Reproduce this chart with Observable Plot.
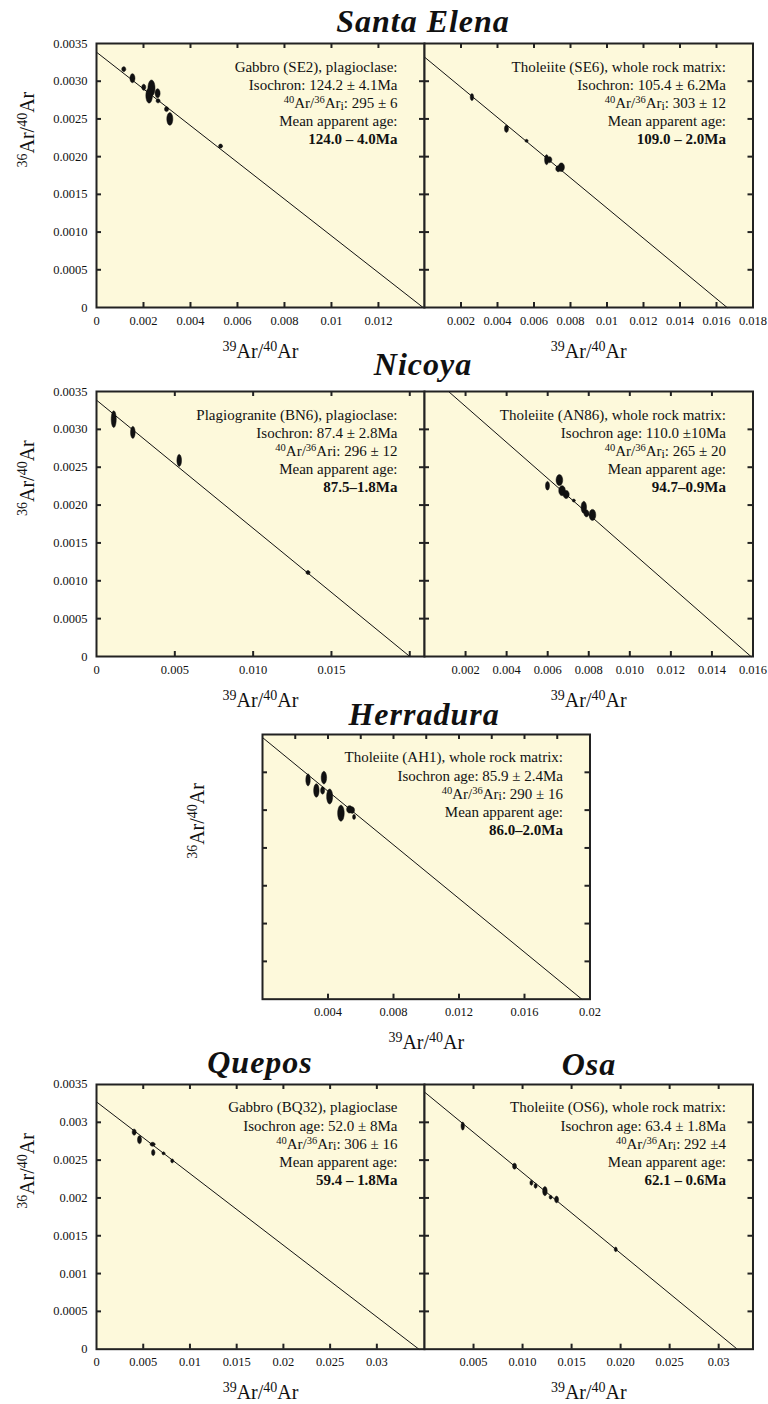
<!DOCTYPE html>
<html><head><meta charset="utf-8">
<script src="https://cdn.jsdelivr.net/npm/d3@7"></script>
<script src="https://cdn.jsdelivr.net/npm/@observablehq/plot@0.6"></script>
<style>
body{margin:0;background:#fff;}
#root{position:relative;width:768px;height:1404px;overflow:hidden;background:#fff;}
.title{position:absolute;font-family:"Liberation Serif",serif;font-weight:bold;font-style:italic;font-size:32px;line-height:32px;transform:translateX(-50%);white-space:nowrap;letter-spacing:1px;color:#111;}
.panel{position:absolute;left:0;}
</style></head><body><div id="root"></div>
<script>
// ---------------- DATA ----------------
// points: [x (39Ar/40Ar), y (36Ar/40Ar), x half-error, y half-error]
const santaElenaSE2 = [
  [0.00116,0.00316,0.000085,0.000033],[0.00153,0.00304,0.000106,0.00006],[0.00201,0.00292,0.000085,0.00004],
  [0.00234,0.00291,0.00015,0.000106],[0.00224,0.00281,0.00014,0.0001],[0.0026,0.00284,0.000106,0.00006],
  [0.00262,0.00274,0.000085,0.000027],[0.00298,0.00263,0.000085,0.000033],[0.00312,0.0025,0.000128,0.000084],
  [0.00528,0.00214,0.000085,0.000027]];
const santaElenaSE6 = [
  [0.0026,0.00279,0.000093,0.000046],[0.00449,0.00237,0.00011,0.000049],[0.00559,0.00221,0.000082,0.00002],
  [0.00669,0.00196,0.00011,0.000066],[0.00685,0.00196,0.000126,0.00004],[0.00733,0.00184,0.000137,0.00004],
  [0.0075,0.00186,0.000165,0.000057]];
const nicoyaBN6 = [
  [0.0011,0.003135,0.00016,0.00011],[0.00232,0.00296,0.000147,0.000079],[0.00528,0.00259,0.000147,0.000079],
  [0.0135,0.00111,0.000128,0.000026]];
const nicoyaAN86 = [
  [0.00599,0.002255,0.0000976,0.000057],[0.00657,0.00233,0.000161,0.000073],[0.0067,0.00219,0.000161,0.000066],
  [0.0069,0.00214,0.000146,0.000053],[0.00727,0.00206,0.000073,0.00002],[0.00776,0.00197,0.000132,0.000079],
  [0.00789,0.00189,0.000122,0.000046],[0.00818,0.00187,0.000161,0.000073]];
const herraduraAH1 = [
  [0.00278,0.0029,0.000134,0.000079],[0.00329,0.00276,0.000165,0.000089],[0.00375,0.00293,0.000165,0.000083],
  [0.00367,0.00276,0.000122,0.000049],[0.0041,0.00268,0.000183,0.000099],[0.00479,0.00246,0.0002,0.000106],
  [0.00532,0.00251,0.000183,0.000049],[0.00548,0.0025,0.00014,0.000044],[0.00559,0.00241,0.00009,0.000033]];
const queposBQ32 = [
  [0.00403,0.00287,0.000214,0.00004],[0.0046,0.00277,0.000214,0.000053],[0.006,0.00271,0.00027,0.000026],
  [0.00607,0.0026,0.00018,0.00004],[0.00717,0.00259,0.00016,0.00002],[0.0081,0.00249,0.00016,0.000026]];
const osaOS6 = [
  [0.0039,0.00295,0.00017,0.000053],[0.00918,0.00242,0.0002,0.00004],[0.0109,0.0022,0.00015,0.000033],
  [0.01133,0.00216,0.00015,0.000033],[0.01228,0.00209,0.00023,0.00006],[0.01286,0.00201,0.00015,0.000026],
  [0.01347,0.00198,0.0002,0.000044],[0.0195,0.00132,0.00015,0.00003]];

// isochron lines: two end points [x, y]
const isoSE2 = [[0,0.003385],[0.0139,0]];
const isoSE6 = [[0,0.00332],[0.01658,0]];
const isoBN6 = [[0,0.003386],[0.0200,0]];
const isoAN86 = [[0.00117,0.0035],[0.0159,0]];
const isoAH1 = [[0,0.00346],[0.0195,0]];
const isoBQ32 = [[0,0.00327],[0.0345,0]];
const isoOS6 = [[0,0.0034],[0.0319,0]];

// annotation texts
const textSE2 = ["Gabbro (SE2), plagioclase:","Isochron: 124.2 ± 4.1Ma","^40Ar/^36Ar_i: 295 ± 6","Mean apparent age:","124.0 – 4.0Ma"];
const textSE6 = ["Tholeiite (SE6), whole rock matrix:","Isochron: 105.4 ± 6.2Ma","^40Ar/^36Ar_i: 303 ± 12","Mean apparent age:","109.0 – 2.0Ma"];
const textBN6 = ["Plagiogranite (BN6), plagioclase:","Isochron: 87.4 ± 2.8Ma","^40Ar/^36Ari: 296 ± 12","Mean apparent age:","87.5–1.8Ma"];
const textAN86 = ["Tholeiite (AN86), whole rock matrix:","Isochron age: 110.0 ±10Ma","^40Ar/^36Ar_i: 265 ± 20","Mean apparent age:","94.7–0.9Ma"];
const textAH1 = ["Tholeiite (AH1), whole rock matrix:","Isochron age: 85.9 ± 2.4Ma","^40Ar/^36Ar_i: 290 ± 16","Mean apparent age:","86.0–2.0Ma"];
const textBQ32 = ["Gabbro (BQ32), plagioclase","Isochron age: 52.0 ± 8Ma","^40Ar/^36Ar_i: 306 ± 16","Mean apparent age:","59.4 – 1.8Ma"];
const textOS6 = ["Tholeiite (OS6), whole rock matrix:","Isochron age: 63.4 ± 1.8Ma","^40Ar/^36Ar_i: 292 ±4","Mean apparent age:","62.1 – 0.6Ma"];

// tick values and labels
const yTickValues = [0,0.0005,0.001,0.0015,0.002,0.0025,0.003,0.0035];
const yLabelsA = ["0","0.0005","0.0010","0.0015","0.0020","0.0025","0.0030","0.0035"];
const yLabelsB = ["0","0.0005","0.001","0.0015","0.002","0.0025","0.003","0.0035"];
const xValsSE2 = [0,0.002,0.004,0.006,0.008,0.01,0.012];
const xLabSE2 = ["0","0.002","0.004","0.006","0.008","0.01","0.012"];
const xValsSE6 = [0.002,0.004,0.006,0.008,0.01,0.012,0.014,0.016,0.018];
const xLabSE6 = ["0.002","0.004","0.006","0.008","0.01","0.012","0.014","0.016","0.018"];
const xValsBN6 = [0,0.005,0.01,0.015];
const xLabBN6 = ["0","0.005","0.010","0.015"];
const xValsAN86 = [0.002,0.004,0.006,0.008,0.01,0.012,0.014,0.016];
const xLabAN86 = ["0.002","0.004","0.006","0.008","0.010","0.012","0.014","0.016"];
const xValsAH1 = [0.004,0.008,0.012,0.016,0.02];
const xLabAH1 = ["0.004","0.008","0.012","0.016","0.02"];
const xValsBQ32 = [0,0.005,0.01,0.015,0.02,0.025,0.03];
const xLabBQ32 = ["0","0.005","0.01","0.015","0.02","0.025","0.03"];
const xValsOS6 = [0.005,0.01,0.015,0.02,0.025,0.03];
const xLabOS6 = ["0.005","0.010","0.015","0.020","0.025","0.03"];

const titles = [["Santa Elena",423,32],["Nicoya",423,375],["Herradura",424,725],["Quepos",260,1073],["Osa",589,1075]];

// ---------------- RENDER ----------------
const BG = "#fdf9db", INK = "#111", EDGE = "#222", TICK = 5;
const FONT = "Liberation Serif";
const root = document.getElementById("root");

function ellipseRows(points){
  const rows = [];
  points.forEach(([x,y,ex,ey],k)=>{
    for(let j=0;j<28;j++){const t=2*Math.PI*j/28; rows.push({id:k,x:x+ex*Math.cos(t),y:y+ey*Math.sin(t)});}
  });
  return rows;
}
function range(a,b,s){const r=[];for(let v=a;v<=b+1e-12;v+=s)r.push(+v.toFixed(6));return r;}

function richify(svg){
  svg.querySelectorAll("text").forEach(t=>{
    const holder = t.querySelector("tspan") || t;
    const s = holder.textContent;
    if(!/[\^_]/.test(s)) return;
    holder.textContent = "";
    const re = /\^(\d+)|_(\w)/g; let last = 0, m;
    while((m = re.exec(s))){
      if(m.index>last) holder.appendChild(document.createTextNode(s.slice(last,m.index)));
      const ts = document.createElementNS("http://www.w3.org/2000/svg","tspan");
      ts.textContent = m[1] || m[2];
      ts.setAttribute("font-size", m[1] ? "70%" : "80%");
      ts.setAttribute("baseline-shift", m[1] ? "super" : "-1.5px");
      holder.appendChild(ts);
      last = re.lastIndex;
    }
    if(last<s.length) holder.appendChild(document.createTextNode(s.slice(last)));
  });
}

function panel(cfg){
  const [fx,fy,fw,fh] = cfg.frame;
  const mT = 12, mB = 66;
  const T = {fontFamily: FONT, fill: INK};
  const marks = [
    Plot.frame({fill: BG}),
    Plot.line(cfg.iso, {x: d=>d[0], y: d=>d[1], stroke: INK, strokeWidth: 1}),
    Plot.line(ellipseRows(cfg.points), {x:"x", y:"y", z:"id", fill: INK, stroke: INK, strokeWidth: 0.5, curve:"linear-closed"}),
    Plot.tickX(cfg.xBottom, {x: d=>d, insetTop: fh-TICK, stroke: EDGE, strokeWidth: 2}),
    Plot.tickX(cfg.xTop, {x: d=>d, insetBottom: fh-TICK, stroke: EDGE, strokeWidth: 2}),
    Plot.tickY(range(0.0005,0.003,0.0005), {y: d=>d, insetRight: fw-TICK, stroke: EDGE, strokeWidth: 2}),
    Plot.tickY(range(0.0005,0.003,0.0005), {y: d=>d, insetLeft: fw-TICK, stroke: EDGE, strokeWidth: 2}),
    Plot.frame({stroke: EDGE, strokeWidth: 2}),
    Plot.text(cfg.xVals.map((_,i)=>i), {...T, x: i=>cfg.xVals[i], text: i=>cfg.xLabels[i], frameAnchor:"bottom", dy: 17, fontSize: 12.5}),
    Plot.text([0], {...T, frameAnchor:"bottom", text: ()=>"^39Ar/^40Ar", dy: 50, lineAnchor:"bottom", fontSize: 20}),
  ];
  cfg.text.forEach((line,i)=>{
    marks.push(Plot.text([0], {...T, frameAnchor:"top-right", text: ()=>line, dx: -27, dy: 28 + 18.2*i, lineAnchor:"bottom", textAnchor:"end", fontSize: 15, fontWeight: i===4 ? "bold" : "normal"}));
  });
  if(cfg.yLabels){
    marks.push(Plot.text(yTickValues.map((_,i)=>i), {...T, y: i=>yTickValues[i], text: i=>cfg.yLabels[i], frameAnchor:"left", dx: -9, textAnchor:"end", fontSize: 12.5}));
  }
  if(cfg.yTitleX != null){
    marks.push(Plot.text([0], {...T, frameAnchor:"left", text: ()=>"^36Ar/^40Ar", rotate: -90, dx: cfg.yTitleX - fx, dy: -8, fontSize: 20}));
  }
  const svg = Plot.plot({
    width: 768, height: fh + mT + mB,
    marginLeft: fx, marginRight: 768 - fx - fw, marginTop: mT, marginBottom: mB,
    x: {domain: cfg.xDomain, axis: null},
    y: {domain: [0, 0.0035], axis: null},
    style: {background: "transparent", overflow: "visible", fontFamily: FONT, color: INK, maxWidth: "none"},
    marks
  });
  richify(svg);
  const div = document.createElement("div");
  div.className = "panel";
  div.style.top = (fy - mT) + "px";
  div.appendChild(svg);
  root.appendChild(div);
}

const panels = [
  {frame:[96,43,328,264], xDomain:[0,0.01396], points:santaElenaSE2, iso:isoSE2, text:textSE2,
   xTop:range(0.002,0.012,0.002), xBottom:range(0.002,0.012,0.002), xVals:xValsSE2, xLabels:xLabSE2, yLabels:yLabelsA, yTitleX:27},
  {frame:[424,43,328.5,264], xDomain:[0,0.018], points:santaElenaSE6, iso:isoSE6, text:textSE6,
   xTop:range(0.002,0.016,0.002), xBottom:range(0.002,0.016,0.002), xVals:xValsSE6, xLabels:xLabSE6},
  {frame:[96,390.7,328,265], xDomain:[0,0.02094], points:nicoyaBN6, iso:isoBN6, text:textBN6,
   xTop:range(0.005,0.02,0.005), xBottom:range(0.005,0.02,0.005), xVals:xValsBN6, xLabels:xLabBN6, yLabels:yLabelsA, yTitleX:27},
  {frame:[424,390.7,328.5,265], xDomain:[0,0.016], points:nicoyaAN86, iso:isoAN86, text:textAN86,
   xTop:range(0.002,0.014,0.002), xBottom:range(0.002,0.014,0.002), xVals:xValsAN86, xLabels:xLabAN86},
  {frame:[262,734.3,327.5,264.7], xDomain:[0,0.02], points:herraduraAH1, iso:isoAH1, text:textAH1,
   xTop:range(0.002,0.018,0.002), xBottom:range(0.004,0.016,0.004), xVals:xValsAH1, xLabels:xLabAH1, yTitleX:197},
  {frame:[96,1084.3,328,264.7], xDomain:[0,0.0351], points:queposBQ32, iso:isoBQ32, text:textBQ32,
   xTop:range(0.005,0.03,0.005), xBottom:range(0.005,0.03,0.005), xVals:xValsBQ32, xLabels:xLabBQ32, yLabels:yLabelsB, yTitleX:27},
  {frame:[424,1084.3,328.5,264.7], xDomain:[0,0.0335], points:osaOS6, iso:isoOS6, text:textOS6,
   xTop:range(0.005,0.03,0.005), xBottom:range(0.005,0.03,0.005), xVals:xValsOS6, xLabels:xLabOS6}
];
panels.forEach(panel);

titles.forEach(([t,cx,base])=>{
  const d = document.createElement("div");
  d.className = "title";
  d.textContent = t;
  d.style.left = cx + "px";
  d.style.top = (base - 27) + "px";
  root.appendChild(d);
});
</script></body></html>
